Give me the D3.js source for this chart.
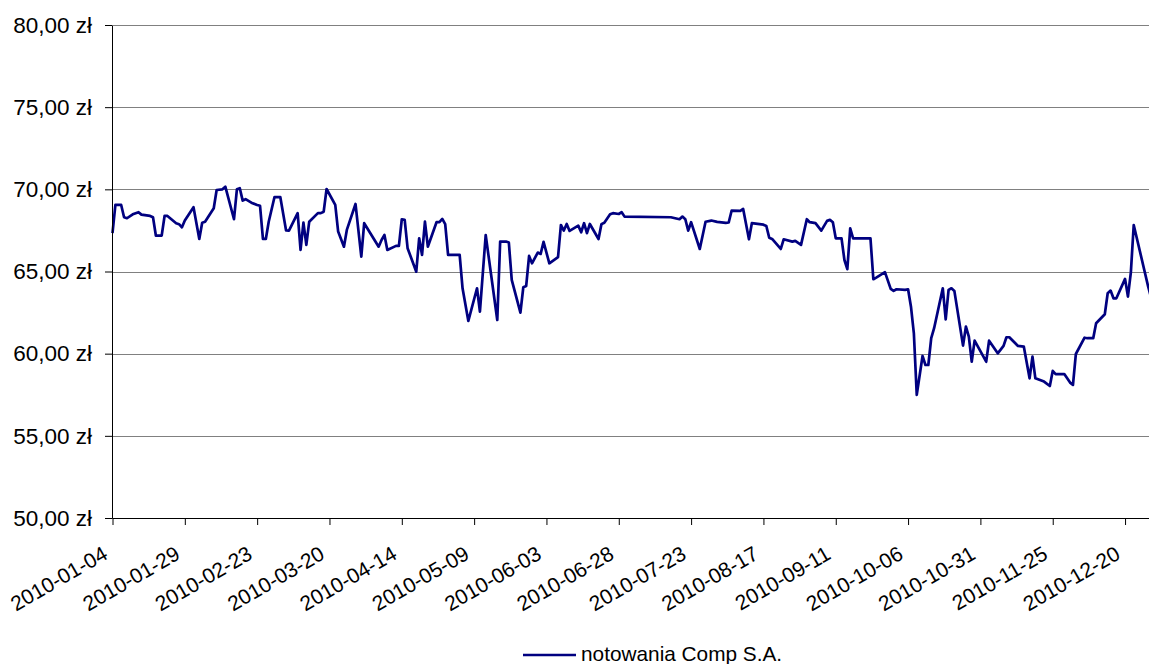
<!DOCTYPE html>
<html>
<head>
<meta charset="utf-8">
<script src="https://cdn.jsdelivr.net/npm/d3@7"></script>
<style>
  html, body { margin: 0; padding: 0; background: #fff; }
  svg { display: block; font-family: "Liberation Sans", Arial, sans-serif; }
</style>
</head>
<body>
<svg id="chart" width="1149" height="664"></svg>
<script>
// ---- data ----
const seriesName = "notowania Comp S.A.";
const dates = [
"2010-01-04","2010-01-05","2010-01-07","2010-01-08","2010-01-09","2010-01-11","2010-01-13","2010-01-14","2010-01-17","2010-01-18","2010-01-19","2010-01-21","2010-01-22","2010-01-23","2010-01-26","2010-01-27","2010-01-28","2010-01-29",
"2010-02-01","2010-02-03","2010-02-04","2010-02-05","2010-02-08","2010-02-09","2010-02-11","2010-02-12","2010-02-15","2010-02-16","2010-02-17","2010-02-18","2010-02-19","2010-02-21","2010-02-23","2010-02-24","2010-02-25","2010-02-26","2010-02-27",
"2010-03-01","2010-03-03","2010-03-05","2010-03-06","2010-03-09","2010-03-10","2010-03-11","2010-03-12","2010-03-13","2010-03-16","2010-03-17","2010-03-18","2010-03-19","2010-03-22","2010-03-23","2010-03-25","2010-03-26","2010-03-29","2010-03-31",
"2010-04-01","2010-04-06","2010-04-07","2010-04-08","2010-04-09","2010-04-12","2010-04-13","2010-04-14","2010-04-15","2010-04-16","2010-04-19","2010-04-20","2010-04-21","2010-04-22","2010-04-23","2010-04-26","2010-04-27","2010-04-28","2010-04-29","2010-04-30",
"2010-05-04","2010-05-05","2010-05-07","2010-05-10","2010-05-11","2010-05-13","2010-05-17","2010-05-18","2010-05-20","2010-05-21","2010-05-22","2010-05-25","2010-05-26","2010-05-27","2010-05-28","2010-05-29","2010-05-31",
"2010-06-01","2010-06-02","2010-06-04","2010-06-07","2010-06-08","2010-06-09","2010-06-10","2010-06-11","2010-06-14","2010-06-15","2010-06-16","2010-06-17","2010-06-18","2010-06-21","2010-06-22","2010-06-23","2010-06-25","2010-06-26","2010-06-28","2010-06-29","2010-06-30",
"2010-07-16","2010-07-19","2010-07-20","2010-07-21","2010-07-22","2010-07-23","2010-07-26","2010-07-28","2010-07-30",
"2010-08-01","2010-08-04","2010-08-05","2010-08-06","2010-08-09","2010-08-10","2010-08-12","2010-08-13","2010-08-17","2010-08-18","2010-08-19","2010-08-20","2010-08-23","2010-08-24","2010-08-27","2010-08-28","2010-08-30",
"2010-09-01","2010-09-02","2010-09-04","2010-09-06","2010-09-08","2010-09-09","2010-09-10","2010-09-11","2010-09-13","2010-09-14","2010-09-15","2010-09-16","2010-09-17","2010-09-23","2010-09-24","2010-09-25","2010-09-28","2010-09-30",
"2010-10-01","2010-10-02","2010-10-05","2010-10-06","2010-10-07","2010-10-08","2010-10-09","2010-10-11","2010-10-12","2010-10-13","2010-10-14","2010-10-15","2010-10-18","2010-10-19","2010-10-20","2010-10-21","2010-10-22","2010-10-25","2010-10-26","2010-10-27","2010-10-28","2010-10-29",
"2010-11-02","2010-11-03","2010-11-06","2010-11-08","2010-11-09","2010-11-10","2010-11-13","2010-11-15","2010-11-17","2010-11-18","2010-11-19","2010-11-22","2010-11-24","2010-11-25","2010-11-26","2010-11-29",
"2010-12-01","2010-12-02","2010-12-03","2010-12-06","2010-12-07","2010-12-09","2010-12-10","2010-12-13","2010-12-14","2010-12-15","2010-12-16","2010-12-17","2010-12-20","2010-12-21","2010-12-22","2010-12-23","2010-12-28","2010-12-29"
];
const prices = [
67.33,69.05,69.05,68.30,68.24,68.48,68.61,68.46,68.38,68.30,67.18,67.18,68.38,68.38,67.94,67.88,67.69,68.10,
68.91,66.98,67.97,68.03,68.85,69.96,70.00,70.16,68.18,70.00,70.07,69.31,69.40,69.19,69.05,69.00,66.98,66.98,68.03,
69.53,69.53,67.50,67.49,68.55,66.31,67.97,66.62,68.03,68.55,68.55,68.64,70.02,69.05,67.43,66.51,67.53,69.11,65.90,
67.94,66.51,66.92,67.22,66.31,66.56,66.56,68.18,68.14,66.42,64.99,67.02,66.01,68.03,66.51,68.00,68.00,68.20,67.88,66.01,
66.01,63.98,61.99,63.98,62.56,67.22,62.05,66.82,66.82,66.76,64.49,62.50,64.04,64.12,65.95,65.50,66.15,
66.07,66.80,65.50,65.87,67.83,67.49,67.89,67.47,67.79,67.39,67.94,67.33,67.89,66.98,67.88,67.97,68.48,68.55,68.50,68.61,68.34,
68.30,68.18,68.34,68.18,67.49,68.00,66.37,68.03,68.10,
68.02,67.96,67.98,68.70,68.69,68.81,66.96,67.94,67.85,67.77,67.06,66.98,66.37,66.96,66.82,66.86,66.62,
68.18,68.00,67.94,67.49,68.08,68.14,68.00,67.02,67.02,65.70,65.14,67.63,67.02,67.02,64.53,64.63,64.96,63.94,
63.82,63.92,63.88,63.92,62.86,61.24,57.49,59.86,59.31,59.31,60.94,61.55,63.98,62.09,63.88,63.98,63.82,60.49,61.65,61.04,59.51,60.79,
59.51,60.79,60.02,60.47,61.00,61.00,60.47,60.43,58.50,59.82,58.50,58.30,58.03,58.95,58.76,58.76,
58.24,58.10,59.98,60.97,60.94,60.94,61.85,62.40,63.68,63.84,63.37,63.37,64.55,63.47,64.93,67.83,64.08,63.40
];
const xTickLabels = ["2010-01-04","2010-01-29","2010-02-23","2010-03-20","2010-04-14","2010-05-09","2010-06-03","2010-06-28","2010-07-23","2010-08-17","2010-09-11","2010-10-06","2010-10-31","2010-11-25","2010-12-20"];
const yTicks = [50, 55, 60, 65, 70, 75, 80];
const xDomain = ["2010-01-04", "2010-12-31"];

// ---- chart ----
(function () {
  const parse = d3.utcParse("%Y-%m-%d");
  const fmt = d3.utcFormat("%Y-%m-%d");
  const data = dates.map((d, i) => ({ date: parse(d), value: prices[i] }));

  const svg = d3.select("#chart");
  const W = 1149, H = 664;
  const pL = 112.5, pT = 25, pB = 518;
  const pxPerDay = 2.893;
  const d0 = parse(xDomain[0]), d1 = parse(xDomain[1]);
  const nDays = (d1 - d0) / 86400000;

  const x = d3.scaleUtc().domain([d0, d1]).range([pL, pL + nDays * pxPerDay]);
  const y = d3.scaleLinear().domain([50, 80]).range([pB, pT]);

  svg.append("rect").attr("width", W).attr("height", H).attr("fill", "#fff");

  // gridlines
  svg.append("g").selectAll("line").data(yTicks.filter(v => v > 50)).join("line")
    .attr("x1", pL).attr("x2", W)
    .attr("y1", d => Math.round(y(d)) + 0.5).attr("y2", d => Math.round(y(d)) + 0.5)
    .attr("stroke", "#808080").attr("stroke-width", 1);

  // line
  const line = d3.line().x(d => x(d.date)).y(d => y(d.value));
  svg.append("path").datum(data)
    .attr("d", line)
    .attr("fill", "none")
    .attr("stroke", "#000080")
    .attr("stroke-width", 2.7)
    .attr("stroke-linejoin", "round");

  // y axis
  const yAxis = svg.append("g").attr("transform", `translate(${pL - 0.5},0)`)
    .call(d3.axisLeft(y).tickValues(yTicks).tickSize(7).tickSizeOuter(0).tickPadding(13)
      .tickFormat(d => d.toFixed(2).replace(".", ",") + " zł"));
  yAxis.selectAll("text").attr("font-size", 22.5).attr("fill", "#000")
    .attr("font-family", "'Liberation Sans', Arial, sans-serif");
  yAxis.selectAll("line, path").attr("stroke", "#000");

  // x axis
  const xAxis = svg.append("g").attr("transform", `translate(0,${pB})`)
    .call(d3.axisBottom(x).tickValues(xTickLabels.map(parse)).tickSize(7).tickSizeOuter(0).tickFormat(fmt));
  xAxis.select(".domain").attr("d", `M${pL},0.5H${W}`);
  xAxis.selectAll("line, path").attr("stroke", "#000");
  xAxis.selectAll("text")
    .attr("font-size", 21).attr("fill", "#000")
    .attr("font-family", "'Liberation Sans', Arial, sans-serif")
    .attr("text-anchor", "end")
    .attr("x", 0).attr("y", 0).attr("dy", 0)
    .attr("transform", "translate(-4,40) rotate(-30)");

  // legend
  const lg = svg.append("g").attr("transform", "translate(523,655)");
  lg.append("line").attr("x1", 0).attr("x2", 53).attr("y1", 0).attr("y2", 0)
    .attr("stroke", "#000080").attr("stroke-width", 2.7);
  lg.append("text").attr("x", 58).attr("y", 6).attr("font-size", 20.8).attr("fill", "#000")
    .text(seriesName);
})();
</script>
</body>
</html>
